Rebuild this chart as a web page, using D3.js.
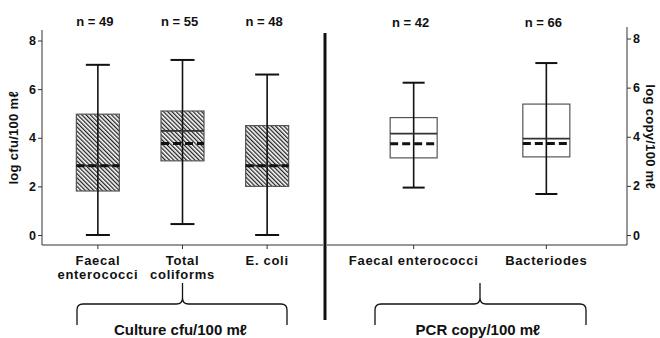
<!DOCTYPE html>
<html>
<head>
<meta charset="utf-8">
<script src="https://cdn.jsdelivr.net/npm/d3@7"></script>
<style>
  html, body { margin: 0; padding: 0; background: #fff; }
  svg { display: block; font-family: "Liberation Sans", Arial, sans-serif; }
</style>
</head>
<body>
<svg id="chart" width="660" height="338"></svg>
<script>
// ---- Data ----
const cultureCats   = ["Faecal enterococci", "Total coliforms", "E. coli"];
const cultureLabels = [["Faecal", "enterococci"], ["Total", "coliforms"], ["E. coli"]];
const cultureN      = [49, 55, 48];
const cultureMin    = [0.0, 0.45, 0.0];
const cultureQ1     = [1.81, 3.05, 2.0];
const cultureMedian = [2.85, 4.28, 2.85];
const cultureMean   = [2.85, 3.76, 2.85];
const cultureQ3     = [4.97, 5.10, 4.50];
const cultureMax    = [7.0, 7.2, 6.6];

const pcrCats   = ["Faecal enterococci", "Bacteriodes"];
const pcrLabels = [["Faecal enterococci"], ["Bacteriodes"]];
const pcrN      = [42, 66];
const pcrMin    = [1.93, 1.67];
const pcrQ1     = [3.14, 3.18];
const pcrMedian = [4.13, 3.92];
const pcrMean   = [3.72, 3.73];
const pcrQ3     = [4.78, 5.33];
const pcrMax    = [6.2, 7.0];

const yTicks = [0, 2, 4, 6, 8];
const leftTitle  = "log cfu/100 m\u2113";
const rightTitle = "log copy/100 m\u2113";
const cultureGroup = "Culture cfu/100 m\u2113";
const pcrGroup     = "PCR copy/100 m\u2113";

// ---- Setup ----
const svg = d3.select("#chart");
const defs = svg.append("defs");
const pat = defs.append("pattern")
  .attr("id", "hatch").attr("patternUnits", "userSpaceOnUse")
  .attr("width", 3).attr("height", 3)
  .attr("patternTransform", "rotate(-45)");
pat.append("rect").attr("width", 3).attr("height", 3).attr("fill", "#fff");
pat.append("rect").attr("x", 0).attr("width", 1.3).attr("height", 3).attr("fill", "#222");

const axisColor = "#333";

function panel(opts) {
  const g = svg.append("g");
  const x = d3.scalePoint().domain(opts.cats).range(opts.xRange).padding(opts.pad);
  const y = d3.scaleLinear().domain([0, 8]).range(opts.yRange);

  // y axis
  const yAxis = (opts.side === "left" ? d3.axisLeft(y) : d3.axisRight(y))
    .tickValues(yTicks).tickSize(4).tickPadding(2);
  const ya = g.append("g").attr("transform", `translate(${opts.axisX},0)`).call(yAxis);
  ya.select(".domain").remove();
  ya.selectAll(".tick line").attr("stroke", axisColor);
  ya.selectAll(".tick text").attr("font-size", 12.5).attr("font-weight", "bold").attr("fill", "#111");
  g.append("line").attr("x1", opts.axisX).attr("x2", opts.axisX)
    .attr("y1", opts.axisTop).attr("y2", opts.baseY).attr("stroke", axisColor).attr("stroke-width", 1);

  // x axis
  g.append("line").attr("x1", opts.baseX[0]).attr("x2", opts.baseX[1])
    .attr("y1", opts.baseY).attr("y2", opts.baseY).attr("stroke", axisColor).attr("stroke-width", 1);
  g.selectAll(".xt").data(opts.cats).join("line")
    .attr("x1", d => x(d)).attr("x2", d => x(d))
    .attr("y1", opts.baseY).attr("y2", opts.baseY + 4).attr("stroke", axisColor);

  // category labels
  opts.cats.forEach((c, i) => {
    const t = g.append("text").attr("x", x(c)).attr("y", opts.baseY + 20)
      .attr("text-anchor", "middle").attr("font-size", 13).attr("letter-spacing", 0.7)
      .attr("font-weight", "bold").attr("fill", "#111");
    opts.labels[i].forEach((line, j) => {
      t.append("tspan").attr("x", x(c)).attr("dy", j === 0 ? 0 : 14).text(line);
    });
  });

  // n labels
  g.selectAll(".nl").data(opts.cats).join("text")
    .attr("x", d => x(d) - 3).attr("y", opts.nY)
    .attr("text-anchor", "middle").attr("font-size", 13).attr("font-weight", "bold").attr("fill", "#111")
    .text((d, i) => "n = " + opts.n[i]);

  const bw = opts.boxW, cw = opts.capW;
  opts.cats.forEach((c, i) => {
    const cx = x(c);
    // box
    g.append("rect").attr("x", cx - bw / 2).attr("width", bw)
      .attr("y", y(opts.q3[i])).attr("height", y(opts.q1[i]) - y(opts.q3[i]))
      .attr("fill", opts.fill).attr("stroke", "#555").attr("stroke-width", 1.2);
    // whisker
    g.append("line").attr("x1", cx).attr("x2", cx)
      .attr("y1", y(opts.max[i])).attr("y2", y(opts.min[i]))
      .attr("stroke", "#111").attr("stroke-width", 1.6);
    [opts.max[i], opts.min[i]].forEach(v => {
      g.append("line").attr("x1", cx - cw / 2).attr("x2", cx + cw / 2)
        .attr("y1", y(v)).attr("y2", y(v)).attr("stroke", "#111").attr("stroke-width", 2);
    });
    // median
    g.append("line").attr("x1", cx - bw / 2).attr("x2", cx + bw / 2)
      .attr("y1", y(opts.median[i])).attr("y2", y(opts.median[i]))
      .attr("stroke", "#333").attr("stroke-width", 1.8);
    // mean (dashed)
    g.append("line").attr("x1", cx - bw / 2).attr("x2", cx + bw / 2)
      .attr("y1", y(opts.mean[i])).attr("y2", y(opts.mean[i]))
      .attr("stroke", "#111").attr("stroke-width", 3).attr("stroke-dasharray", "8,4");
  });

  // axis title
  g.append("text")
    .attr("transform", `translate(${opts.titleX},${(opts.yRange[0] + opts.yRange[1]) / 2}) rotate(${opts.side === "left" ? -90 : 90})`)
    .attr("text-anchor", "middle").attr("dominant-baseline", "central")
    .attr("font-size", 13).attr("letter-spacing", 0.3).attr("font-weight", "bold").attr("fill", "#111")
    .text(opts.title);

  // brace
  const xl = opts.brace[0], xr = opts.brace[1];
  const xm = (opts.braceMid === "mid") ? (x(opts.cats[0]) + x(opts.cats[opts.cats.length - 1])) / 2 : x(opts.cats[1]);
  const yb = 325, yh = 304, yt = 283, r = 6;
  const p = d3.path();
  p.moveTo(xl, yb);
  p.lineTo(xl, yh + r);
  p.quadraticCurveTo(xl, yh, xl + r, yh);
  p.lineTo(xm - r, yh);
  p.quadraticCurveTo(xm, yh, xm, yh - r);
  p.lineTo(xm, yt);
  p.moveTo(xm, yh - r);
  p.quadraticCurveTo(xm, yh, xm + r, yh);
  p.lineTo(xr - r, yh);
  p.quadraticCurveTo(xr, yh, xr, yh + r);
  p.lineTo(xr, yb);
  g.append("path").attr("d", p.toString()).attr("fill", "none").attr("stroke", "#111").attr("stroke-width", 1.3);
  g.append("text").attr("x", xm - 2).attr("y", 335).attr("text-anchor", "middle")
    .attr("font-size", 15).attr("font-weight", "bold").attr("fill", "#111").text(opts.group);
}

panel({
  side: "left", cats: cultureCats, labels: cultureLabels, n: cultureN,
  min: cultureMin, q1: cultureQ1, median: cultureMedian, mean: cultureMean, q3: cultureQ3, max: cultureMax,
  xRange: [42, 323], pad: 0.66, yRange: [235, 40.5],
  axisX: 42, axisTop: 30, baseY: 245, baseX: [42, 323], nY: 26,
  boxW: 43, capW: 24, fill: "url(#hatch)", title: leftTitle, titleX: 13,
  brace: [77, 287], braceMid: "cat", group: cultureGroup
});

panel({
  side: "right", cats: pcrCats, labels: pcrLabels, n: pcrN,
  min: pcrMin, q1: pcrQ1, median: pcrMedian, mean: pcrMean, q3: pcrQ3, max: pcrMax,
  xRange: [333, 627], pad: 0.608, yRange: [235, 38.5],
  axisX: 627, axisTop: 27, baseY: 245, baseX: [327, 627], nY: 27,
  boxW: 47, capW: 22, fill: "#fff", title: rightTitle, titleX: 650,
  brace: [375, 586], braceMid: "mid", group: pcrGroup
});

// divider
svg.append("line").attr("x1", 325).attr("x2", 325).attr("y1", 33).attr("y2", 320)
  .attr("stroke", "#111").attr("stroke-width", 3);
</script>
</body>
</html>
